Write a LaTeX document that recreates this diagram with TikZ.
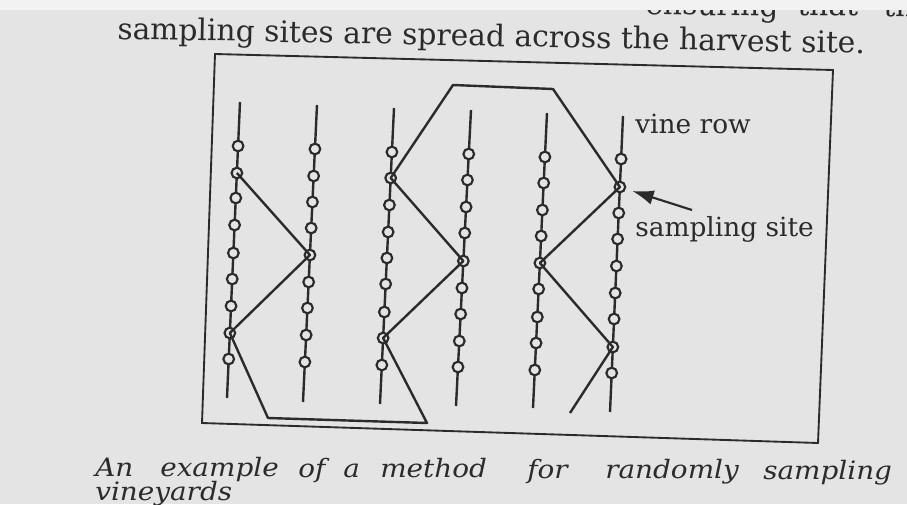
\documentclass[tikz,border=0pt]{standalone}
\usepackage{fontspec}
\setmainfont{DejaVu Serif}
\newfontfamily\capfont[FakeStretch=1.1]{DejaVu Serif}
\usetikzlibrary{arrows.meta}
\definecolor{paper}{HTML}{E4E4E4}
\definecolor{band}{HTML}{F2F2F2}
\definecolor{ink}{HTML}{2B2B2B}
\tikzset{
  frameline/.style={draw=ink, line width=1.4pt, line join=miter},
  vine/.style={draw=ink, line width=1.8pt},
  bud/.style={circle, draw=ink, fill=paper, line width=1.6pt, inner sep=0pt, minimum size=8pt},
  route/.style={draw=ink, line width=1.8pt, line join=round},
  pointer/.style={draw=ink, line width=1.6pt, -{Latex[length=16pt,width=11pt]}},
  lbl/.style={anchor=base west, inner sep=0pt, font=\fontsize{19.8pt}{22pt}\selectfont, text=ink},
  head/.style={anchor=base west, inner sep=0pt, font=\fontsize{22.3pt}{26pt}\selectfont, text=ink},
  capw/.style={anchor=base west, inner sep=0pt, font=\capfont\itshape\fontsize{19pt}{21pt}\selectfont, text=ink},
}
\newcommand\vinerow[6]{%
  \coordinate (t#1) at (#2,#3);
  \coordinate (b#1) at (#4,#5);
  \draw[vine] (t#1) -- (b#1);
  \foreach \yy [count=\i] in {#6} {
    \pgfmathsetmacro\xx{#2+(#4-#2)*(\yy-#3)/(#5-#3)}
    \node[bud] (r#1c\i) at (\xx,\yy) {};
  }%
}
\begin{document}
\begin{tikzpicture}[x=0.75pt,y=-0.75pt]
\fill[paper] (0,0) rectangle (907,504);
\useasboundingbox (0,0) rectangle (907,504);
\fill[band] (0,0) rectangle (907,10);

% cut-off line of text at the top
\begin{scope}
  \clip (0,10) rectangle (907,504);
  \node[head, rotate=-1.1] (prev1) at (645,14) {ensuring};
  \node[head, rotate=-1.1] (prev2) at (797,15) {that};
  \node[head, rotate=-1.1] (prev3) at (883,16) {the};
\end{scope}

% heading line
\node[head, rotate=-1.1] (headline) at (117,39) {sampling sites are spread across the harvest site.};

% frame
\coordinate (f1) at (215,54);
\coordinate (f2) at (833,70);
\coordinate (f3) at (818,443);
\coordinate (f4) at (202,423);
\draw[frameline] (f1) -- (f2) -- (f3) -- (f4) -- cycle;

% vine rows
\vinerow{1}{240}{102}{227}{398}{146,173,198,225,253,279,306,333,359}
\vinerow{2}{317}{105}{303}{402}{149,176,202,228,255,282,308,335,362}
\vinerow{3}{394}{108}{380}{404}{152,178,205,232,258,284,312,338,365}
\vinerow{4}{471}{110}{456}{406}{154,180,207,233,261,288,314,341,367}
\vinerow{5}{547}{113}{533}{408}{157,183,210,236,263,289,317,343,370}
\vinerow{6}{623}{116}{610}{412}{159,187,213,239,266,293,319,347,373}

% sampling route
\coordinate (p1) at (268,418);
\coordinate (p2) at (427,423);
\coordinate (p3) at (453,85);
\coordinate (p4) at (553,89);
\coordinate (p5) at (570,413);
\draw[route] (r1c2.center) -- (r2c5.center) -- (r1c8.center) -- (p1) -- (p2)
  -- (r3c8.center) -- (r4c5.center) -- (r3c2.center) -- (p3) -- (p4)
  -- (r6c2.center) -- (r5c5.center) -- (r6c8.center) -- (p5);

% labels
\node[lbl] (vinelbl) at (635,133) {vine row};
\node[lbl] (sitelbl) at (635,236) {sampling site};
\coordinate (atail) at (692,210);
\draw[pointer, shorten >=5pt] (atail) -- (r6c2);

% caption
\node[capw] (cw1) at (95,476) {An};
\node[capw] (cw2) at (160,476.3) {example};
\node[capw] (cw3) at (298,477) {of};
\node[capw] (cw4) at (343,477.2) {a};
\node[capw] (cw5) at (380,477.4) {method};
\node[capw] (cw6) at (527,478.2) {for};
\node[capw] (cw7) at (605,478.5) {randomly};
\node[capw] (cw8) at (763,479.3) {sampling};
\node[capw] (cv) at (95,500) {vineyards};
\end{tikzpicture}
\end{document}
